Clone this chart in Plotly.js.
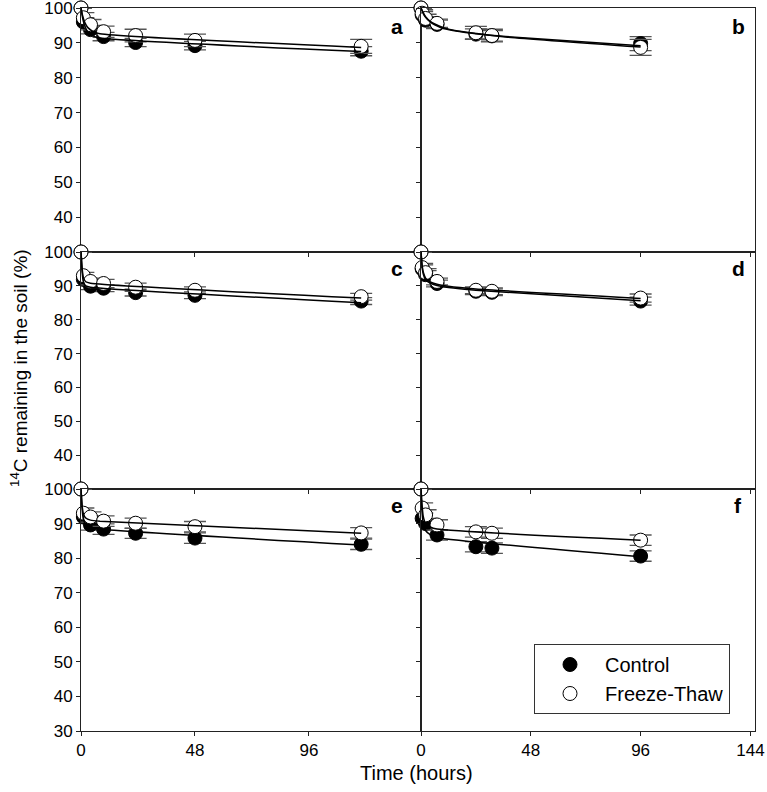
<!DOCTYPE html>
<html>
<head>
<meta charset="utf-8">
<script src="https://cdn.plot.ly/plotly-3.0.1.min.js"></script>
<style>html,body{margin:0;padding:0;background:#fff;}#chart{width:767px;height:792px;}</style>
</head>
<body>
<div id="chart"></div>
<script>
// ---- Data ----
const timeLeft  = [0, 1, 4, 9.5, 23, 48, 118];   // panels a, c, e (hours)
const timeRight = [0, 0.5, 2, 7, 24, 31, 96];    // panels b, d, f (hours)

const aControl = [100, 96.0, 93.8, 91.8, 90.1, 89.2, 87.6];
const aFT      = [100, 97.2, 95.2, 93.2, 92.1, 90.7, 89.0];
const aControlErr = [0, 1.2, 1.2, 1.2, 1.2, 1.2, 1.3];
const aFTErr      = [0, 1.5, 1.5, 1.6, 1.8, 1.8, 2.0];

const bControl = [100, 98.0, 96.5, 95.3, 92.5, 92.0, 89.8];
const bFT      = [100, 98.5, 97.0, 95.6, 92.9, 92.1, 88.7];
const bControlErr = [0, 1.0, 1.0, 1.2, 1.5, 1.5, 2.0];
const bFTErr      = [0, 1.0, 1.2, 1.2, 1.8, 1.8, 2.3];

const cControl = [100, 91.9, 89.9, 89.3, 88.0, 87.2, 85.5];
const cFT      = [100, 93.0, 91.3, 90.7, 89.6, 88.7, 86.8];
const cControlErr = [0, 1.0, 1.0, 1.0, 1.0, 1.0, 1.0];
const cFTErr      = [0, 1.0, 1.0, 1.2, 1.2, 1.0, 1.0];

const dControl = [100, 95.0, 93.3, 90.7, 88.4, 88.1, 85.5];
const dFT      = [100, 95.4, 93.9, 91.3, 88.7, 88.4, 86.4];
const dControlErr = [0, 1.2, 1.2, 1.0, 1.0, 1.0, 1.2];
const dFTErr      = [0, 1.2, 1.2, 1.0, 1.0, 1.0, 1.2];

const eControl = [100, 91.9, 89.6, 88.4, 87.2, 85.8, 84.0];
const eFT      = [100, 93.0, 91.9, 90.7, 90.1, 89.1, 87.3];
const eControlErr = [0, 1.5, 1.5, 1.5, 1.5, 1.5, 1.5];
const eFTErr      = [0, 1.5, 1.5, 1.5, 1.5, 1.5, 1.5];

const fControl = [100, 91.5, 90.0, 86.7, 83.3, 82.9, 80.6];
const fFT      = [100, 94.5, 92.5, 89.6, 87.6, 87.2, 85.2];
const fControlErr = [0, 1.5, 1.5, 1.5, 1.5, 1.5, 1.5];
const fFTErr      = [0, 1.5, 1.5, 1.5, 1.5, 1.5, 1.5];

// fitted curves
const aFitT = [0, 0.5, 1, 2, 3, 5, 8, 118];
const aFitFT      = [100, 98.3, 97.0, 95.3, 94.3, 93.3, 92.6, 88.7];
const aFitControl = [100, 97.8, 96.2, 94.2, 93.0, 92.0, 91.4, 87.5];

const bFitT = [0, 1, 2, 4, 6, 10, 16, 24, 37, 96];
const bFitFT      = [100, 98.6, 97.5, 96.2, 95.4, 94.3, 93.4, 92.7, 91.7, 88.8];
const bFitControl = [100, 98.4, 97.3, 96.0, 95.2, 94.1, 93.3, 92.6, 91.8, 89.2];

const cFitT = [0, 0.5, 1, 2, 4, 118];
const cFitFT      = [100, 95.0, 92.5, 91.2, 90.8, 86.4];
const cFitControl = [100, 94.0, 91.2, 90.0, 89.6, 85.0];

const dFitT = [0, 0.5, 1, 2, 4, 7, 12, 24, 96];
const dFitFT      = [100, 96.0, 94.0, 92.3, 91.2, 90.5, 89.9, 89.1, 86.3];
const dFitControl = [100, 95.5, 93.5, 91.8, 90.8, 90.1, 89.5, 88.7, 85.6];

const eFitT = [0, 0.5, 1, 2, 4, 8, 118];
const eFitFT      = [100, 95.0, 92.8, 91.6, 91.0, 90.7, 87.2];
const eFitControl = [100, 94.0, 91.2, 89.8, 89.0, 88.4, 83.8];

const fFitT = [0, 0.5, 1, 2, 4, 7, 96];
const fFitFT      = [100, 95.0, 92.0, 90.0, 89.0, 88.4, 85.2];
const fFitControl = [100, 93.0, 90.0, 88.0, 86.8, 86.0, 80.4];

const panelLetters = ['a', 'b', 'c', 'd', 'e', 'f'];
const seriesNames = ['Control', 'Freeze-Thaw'];
const yTickTop = [40, 50, 60, 70, 80, 90, 100];
const yTickBottom = [30, 40, 50, 60, 70, 80, 90, 100];
const xTickLeft = [0, 48, 96];
const xTickRight = [0, 48, 96, 144];

// ---- Build ----
const panels = [
  {t: timeLeft,  c: aControl, f: aFT, ce: aControlErr, fe: aFTErr, ft: aFitT, fc: aFitControl, ff: aFitFT},
  {t: timeRight, c: bControl, f: bFT, ce: bControlErr, fe: bFTErr, ft: bFitT, fc: bFitControl, ff: bFitFT},
  {t: timeLeft,  c: cControl, f: cFT, ce: cControlErr, fe: cFTErr, ft: cFitT, fc: cFitControl, ff: cFitFT},
  {t: timeRight, c: dControl, f: dFT, ce: dControlErr, fe: dFTErr, ft: dFitT, fc: dFitControl, ff: dFitFT},
  {t: timeLeft,  c: eControl, f: eFT, ce: eControlErr, fe: eFTErr, ft: eFitT, fc: eFitControl, ff: eFitFT},
  {t: timeRight, c: fControl, f: fFT, ce: fControlErr, fe: fFTErr, ft: fFitT, fc: fFitControl, ff: fFitFT}
];

const W = 767, H = 792;
const px = v => v / W;
const py = v => 1 - v / H;
const colX = [[px(81), px(421)], [px(421), px(755)]];
const rowY = [[py(252), py(8)], [py(489), py(252)], [py(731), py(489)]];
const xRanges = [[0, 143.2], [0, 146]];

const traces = [];
const layout = {
  width: W, height: H,
  margin: {l: 0, r: 0, t: 0, b: 0},
  paper_bgcolor: '#fff', plot_bgcolor: 'rgba(0,0,0,0)',
  font: {family: 'Liberation Sans, Arial, sans-serif', color: '#000', size: 17},
  showlegend: true,
  legend: {
    x: px(534), y: py(644), xanchor: 'left', yanchor: 'top',
    bordercolor: '#333', borderwidth: 1, bgcolor: '#fff',
    font: {size: 20, family: 'Liberation Sans, Arial, sans-serif'},
    itemwidth: 60, tracegroupgap: 0
  },
  annotations: [],
  shapes: []
};

const errStyle = {type: 'data', visible: true, color: '#555', thickness: 1.3, width: 11};

panels.forEach((p, i) => {
  const col = i % 2, row = Math.floor(i / 2);
  const n = i + 1;
  const xa = n === 1 ? 'x' : 'x' + n;
  const ya = n === 1 ? 'y' : 'y' + n;
  const xKey = n === 1 ? 'xaxis' : 'xaxis' + n;
  const yKey = n === 1 ? 'yaxis' : 'yaxis' + n;
  const isBottom = row === 2;

  layout[xKey] = {
    domain: colX[col], range: xRanges[col], anchor: ya,
    showline: true, mirror: true, linecolor: '#222', linewidth: 1,
    showgrid: false, zeroline: false,
    tickmode: 'array', tickvals: col === 0 ? xTickLeft : xTickRight,
    ticks: 'outside', ticklen: 4, tickcolor: '#222',
    showticklabels: isBottom, tickfont: {size: 17},
    ticklabeloverflow: 'allow'
  };
  layout[yKey] = {
    domain: rowY[row], range: [30, 100], anchor: xa,
    showline: true, mirror: true, linecolor: '#222', linewidth: 1,
    showgrid: false, zeroline: false,
    tickmode: 'array', tickvals: isBottom ? yTickBottom : yTickTop,
    ticks: 'outside', ticklen: 4, tickcolor: '#222',
    showticklabels: col === 0, tickfont: {size: 17},
    ticklabeloverflow: 'allow'
  };

  // Control markers
  traces.push({
    x: p.t, y: p.c, xaxis: xa, yaxis: ya, type: 'scatter', mode: 'markers',
    name: seriesNames[0], showlegend: i === 5, legendrank: 1,
    marker: {symbol: 'circle', size: 14, color: '#000', line: {color: '#000', width: 1}},
    error_y: Object.assign({array: p.ce}, errStyle),
    cliponaxis: false
  });
  // Freeze-Thaw markers
  traces.push({
    x: p.t, y: p.f, xaxis: xa, yaxis: ya, type: 'scatter', mode: 'markers',
    name: seriesNames[1], showlegend: i === 5, legendrank: 2,
    marker: {symbol: 'circle', size: 14, color: '#fff', line: {color: '#000', width: 1}},
    error_y: Object.assign({array: p.fe}, errStyle),
    cliponaxis: false
  });
  // fit lines
  traces.push({
    x: p.ft, y: p.fc, xaxis: xa, yaxis: ya, type: 'scatter', mode: 'lines',
    showlegend: false, line: {color: '#000', width: 1.5, shape: 'spline', smoothing: 0.6}, hoverinfo: 'skip'
  });
  traces.push({
    x: p.ft, y: p.ff, xaxis: xa, yaxis: ya, type: 'scatter', mode: 'lines',
    showlegend: false, line: {color: '#000', width: 1.5, shape: 'spline', smoothing: 0.6}, hoverinfo: 'skip'
  });

  // panel letter
  const letterX = col === 0 ? px(397) : px(738);
  const letterY = row === 0 ? py(26) : (row === 1 ? py(268) : py(505));
  layout.annotations.push({
    text: '<b>' + panelLetters[i] + '</b>', xref: 'paper', yref: 'paper',
    x: letterX, y: letterY, xanchor: 'center', yanchor: 'middle',
    showarrow: false, font: {size: 21, color: '#000'}
  });
});

// axis titles
layout.annotations.push({
  text: 'Time (hours)', xref: 'paper', yref: 'paper',
  x: px(416), y: py(773), xanchor: 'center', yanchor: 'middle',
  showarrow: false, font: {size: 20}
});
layout.annotations.push({
  text: '<sup>14</sup>C remaining in the soil (%)', xref: 'paper', yref: 'paper',
  x: px(19), y: py(368), xanchor: 'center', yanchor: 'middle', textangle: -90,
  showarrow: false, font: {size: 19}
});

Plotly.newPlot('chart', traces, layout, {displayModeBar: false, staticPlot: true});
</script>
</body>
</html>
